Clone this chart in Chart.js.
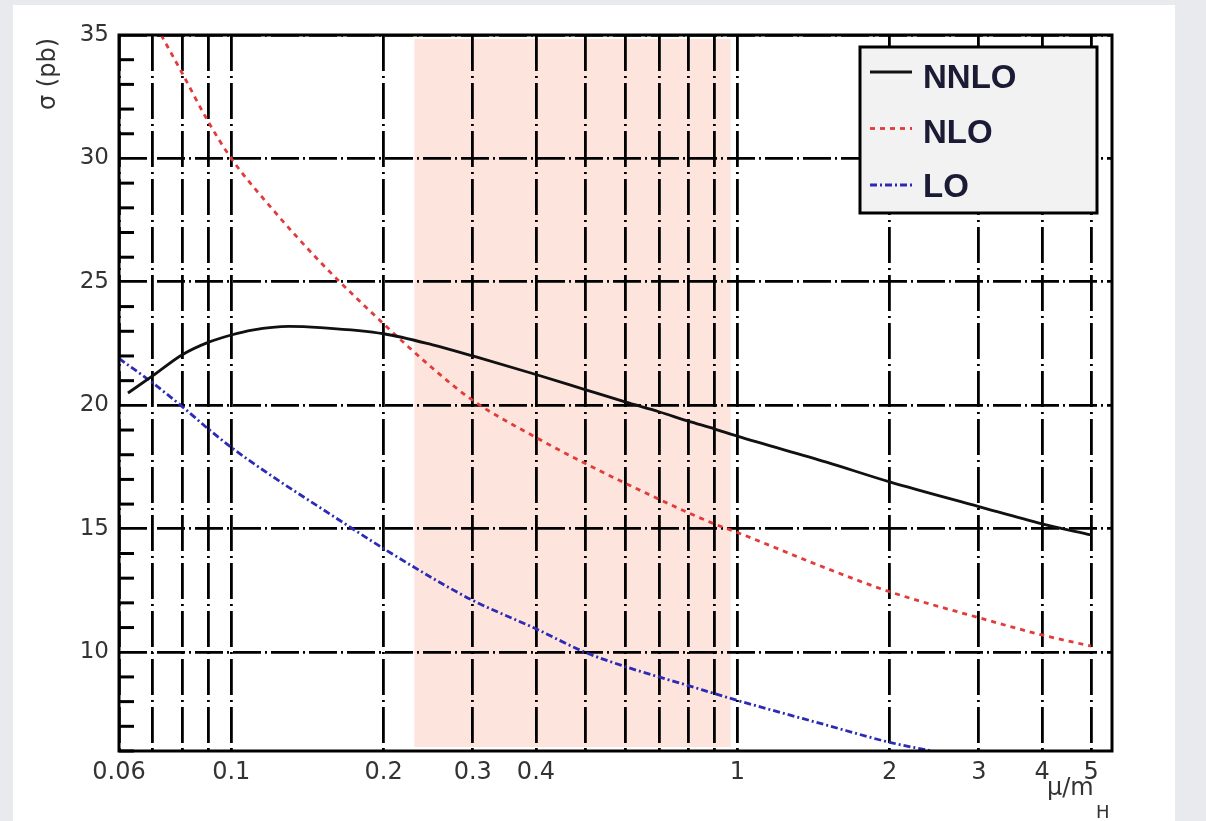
<!DOCTYPE html>
<html>
<head>
<meta charset="utf-8">
<script src="https://cdn.jsdelivr.net/npm/chart.js"></script>
<style>
  body { margin: 0; background: #e8eaee; }
  #panel { position: absolute; left: 13px; top: 5px; width: 1162px; height: 816px; background: #fff; }
  #wrap { position: absolute; left: 0; top: 0; width: 1206px; height: 821px; }
</style>
</head>
<body>
<div id="panel"></div>
<div id="wrap"><canvas id="sigma-chart" width="1206" height="821"></canvas></div>
<script>
// values (x = mu/mH, y = sigma in pb)
var nnloX = [0.0625, 0.07, 0.08, 0.09, 0.1, 0.11, 0.13, 0.15, 0.2, 0.25, 0.3, 0.4, 0.5, 0.6, 0.7, 0.8, 0.9, 1, 1.5, 2, 3, 4, 5];
var nnloY = [20.5, 21.2, 22.05, 22.55, 22.85, 23.05, 23.2, 23.15, 22.9, 22.45, 22.0, 21.25, 20.64, 20.14, 19.74, 19.36, 19.05, 18.75, 17.7, 16.9, 15.9, 15.2, 14.75];

var nloX = [0.0727, 0.08, 0.09, 0.1, 0.12, 0.15, 0.2, 0.25, 0.3, 0.4, 0.5, 0.6, 0.7, 0.8, 0.9, 1, 1.5, 2, 3, 4, 5];
var nloY = [35, 33.45, 31.5, 30.0, 28.0, 25.8, 23.3, 21.5, 20.2, 18.7, 17.65, 16.85, 16.2, 15.65, 15.2, 14.85, 13.4, 12.45, 11.4, 10.7, 10.25];

var loX = [0.06, 0.07, 0.08, 0.09, 0.1, 0.12, 0.15, 0.2, 0.25, 0.3, 0.4, 0.5, 0.6, 0.7, 0.8, 0.9, 1, 1.5, 2, 2.5];
var loY = [21.9, 20.9, 19.95, 19.05, 18.3, 17.15, 15.85, 14.2, 13.0, 12.1, 10.95, 10.0, 9.42, 9.0, 8.65, 8.33, 8.05, 7.05, 6.35, 5.95];

var xGridTicks = [0.06, 0.07, 0.08, 0.09, 0.1, 0.2, 0.3, 0.4, 0.5, 0.6, 0.7, 0.8, 0.9, 1, 2, 3, 4, 5];
var xTickLabels = [0.06, 0.1, 0.2, 0.3, 0.4, 1, 2, 3, 4, 5];
var yTicks = [6, 7, 8, 9, 10, 11, 12, 13, 14, 15, 16, 17, 18, 19, 20, 21, 22, 23, 24, 25, 26, 27, 28, 29, 30, 31, 32, 33, 34, 35];
var bandRange = [0.23, 0.97];

function toPoints(xs, ys) {
  return xs.map(function (x, i) { return { x: x, y: ys[i] }; });
}

var framePlugin = {
  id: 'frame',
  beforeDraw: function (chart) {
    var ctx = chart.ctx, a = chart.chartArea, x = chart.scales.x;
    var x0 = x.getPixelForValue(bandRange[0]);
    var x1 = x.getPixelForValue(bandRange[1]);
    ctx.save();
    ctx.fillStyle = '#fde4dc';
    ctx.fillRect(x0, a.top + 4, x1 - x0, a.bottom - a.top - 8);
    ctx.restore();
  },
  afterDraw: function (chart) {
    var ctx = chart.ctx, a = chart.chartArea, y = chart.scales.y;
    ctx.save();
    // minor ticks on the left edge
    ctx.strokeStyle = '#000';
    ctx.lineWidth = 3;
    y.ticks.forEach(function (t) {
      if (t.value % 5 === 0) return;
      var py = y.getPixelForValue(t.value);
      ctx.beginPath();
      ctx.moveTo(a.left, py);
      ctx.lineTo(a.left + 15, py);
      ctx.stroke();
    });
    // frame
    ctx.strokeRect(a.left, a.top, a.right - a.left, a.bottom - a.top);

    // legend box
    var lx = 860, ly = 47, lw = 237, lh = 166;
    ctx.fillStyle = '#f2f2f2';
    ctx.fillRect(lx, ly, lw, lh);
    ctx.strokeRect(lx, ly, lw, lh);
    chart.data.datasets.forEach(function (ds, i) {
      var cy = 72 + i * 56.5;
      ctx.save();
      ctx.strokeStyle = ds.borderColor;
      ctx.lineWidth = ds.borderWidth;
      ctx.setLineDash(ds.borderDash || []);
      ctx.beginPath();
      ctx.moveTo(lx + 10, cy);
      ctx.lineTo(lx + 52, cy);
      ctx.stroke();
      ctx.restore();
      ctx.fillStyle = '#1b1b35';
      ctx.font = 'bold 33px "Liberation Sans", Arial, sans-serif';
      ctx.textAlign = 'left';
      ctx.textBaseline = 'alphabetic';
      ctx.fillText(ds.label, lx + 63, 88 + i * 54.5);
    });

    // axis titles
    ctx.fillStyle = '#333';
    ctx.save();
    ctx.translate(49, 38);
    ctx.rotate(-Math.PI / 2);
    ctx.font = '24px "DejaVu Sans", sans-serif';
    ctx.textAlign = 'right';
    ctx.textBaseline = 'middle';
    ctx.fillText('σ (pb)', 0, 0);
    ctx.restore();

    ctx.textAlign = 'left';
    ctx.textBaseline = 'alphabetic';
    ctx.font = '24px "DejaVu Sans", sans-serif';
    ctx.fillText('μ/m', 1047, 795);
    ctx.font = '18px "DejaVu Sans", sans-serif';
    ctx.fillText('H', 1096, 818);
    ctx.restore();
  }
};

var ctx = document.querySelector('#sigma-chart').getContext('2d');

var chart = new Chart(ctx, {
  type: 'line',
  data: {
    datasets: [{
      label: 'NNLO',
      data: toPoints(nnloX, nnloY),
      borderColor: '#111111',
      borderWidth: 2.8,
      borderDash: []
    }, {
      label: 'NLO',
      data: toPoints(nloX, nloY),
      borderColor: '#e23b3b',
      borderWidth: 2.8,
      borderDash: [5, 5]
    }, {
      label: 'LO',
      data: toPoints(loX, loY),
      borderColor: '#2b2bb5',
      borderWidth: 2.8,
      borderDash: [7, 3, 2, 3]
    }]
  },
  options: {
    responsive: false,
    animation: false,
    layout: {
      padding: { top: 35, right: 94, left: 0, bottom: 0 }
    },
    plugins: {
      legend: { display: false },
      tooltip: { enabled: false }
    },
    elements: {
      point: { radius: 0 },
      line: { cubicInterpolationMode: 'monotone', fill: false }
    },
    scales: {
      x: {
        type: 'logarithmic',
        min: 0.06,
        max: 5.5,
        afterBuildTicks: function (s) {
          s.ticks = xGridTicks.map(function (v) { return { value: v }; });
        },
        afterFit: function (s) { s.height = 70; },
        ticks: {
          autoSkip: false,
          maxRotation: 0,
          padding: 7,
          color: '#333',
          font: { family: 'DejaVu Sans', size: 24 },
          callback: function (v) {
            return xTickLabels.indexOf(v) >= 0 ? String(v) : '';
          }
        },
        grid: { color: '#000', lineWidth: 2.8, drawTicks: false },
        border: { display: false, dash: [36, 5, 2, 5] }
      },
      y: {
        min: 6,
        max: 35,
        afterBuildTicks: function (s) {
          s.ticks = yTicks.map(function (v) { return { value: v }; });
        },
        afterFit: function (s) { s.width = 119; },
        ticks: {
          autoSkip: false,
          padding: 10,
          color: '#333',
          font: { family: 'DejaVu Sans', size: 23 },
          callback: function (v) {
            return v % 5 === 0 ? String(v) : '';
          }
        },
        grid: {
          color: function (c) {
            return c.tick && c.tick.value % 5 === 0 ? '#000' : 'rgba(0,0,0,0)';
          },
          lineWidth: 2.8,
          drawTicks: false
        },
        border: { display: false, dash: [28, 4, 2, 4] }
      }
    }
  },
  plugins: [framePlugin]
});
</script>
</body>
</html>
